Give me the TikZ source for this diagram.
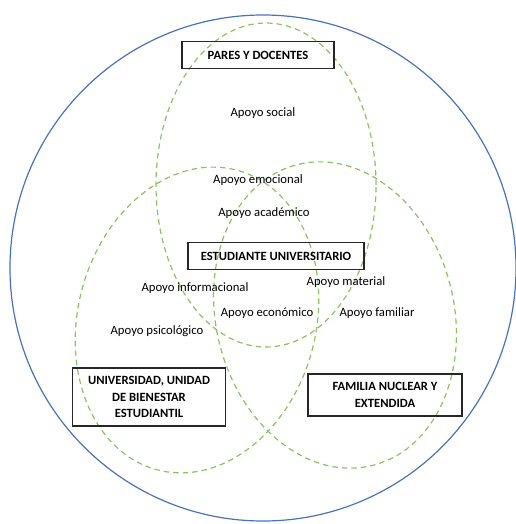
\documentclass[tikz,border=0pt]{standalone}
\usepackage{fontspec}
\setmainfont{Carlito}
\definecolor{vennblue}{RGB}{72,114,190}
\definecolor{venngreen}{RGB}{136,196,96}
\begin{document}
\begin{tikzpicture}[x=1pt,y=-1pt,
  actor/.style={draw=black!85, line width=1.2pt, inner sep=0pt, align=center,
    font=\bfseries\fontsize{12.6}{16.5}\selectfont},
  apoyo/.style={inner sep=0pt, font=\fontsize{12.7}{14}\selectfont},
  zone/.style={draw=venngreen, line width=1.2pt, dash pattern=on 5.5pt off 4pt}]
\useasboundingbox (0,0) rectangle (515,524);
% outer circle and the three zones
\draw[vennblue, line width=1.2pt] (263,268) circle[radius=253pt];
\draw[zone] (266,185) ellipse[x radius=110pt, y radius=162pt];
\draw[zone] (197,320) ellipse[x radius=119pt, y radius=155pt, rotate=-15];
\draw[zone] (335,315) ellipse[x radius=119pt, y radius=155pt, rotate=14];
% actors
\node[actor, minimum width=152pt, minimum height=27pt] (pares) at (258,55) {PARES Y DOCENTES};
\node[actor, minimum width=176pt, minimum height=27pt] (estudiante) at (276,256) {ESTUDIANTE UNIVERSITARIO};
\node[actor, minimum width=153pt, minimum height=58pt] (universidad) at (149,397) {UNIVERSIDAD, UNIDAD\\DE BIENESTAR\\ESTUDIANTIL};
\node[actor, minimum width=154pt, minimum height=42pt] (familia) at (385,395) {FAMILIA NUCLEAR Y\\EXTENDIDA};
% kinds of support
\foreach \nm/\x/\y/\txt in {social/263/113/social, emocional/258/180/emocional,
    academico/264/213/académico, informacional/195/288/informacional,
    material/346/282/material, economico/267/313/económico,
    familiar/377/313/familiar, psicologico/157/331/psicológico}
  \node[apoyo] (\nm) at (\x,\y) {Apoyo \txt};
\end{tikzpicture}
\end{document}
